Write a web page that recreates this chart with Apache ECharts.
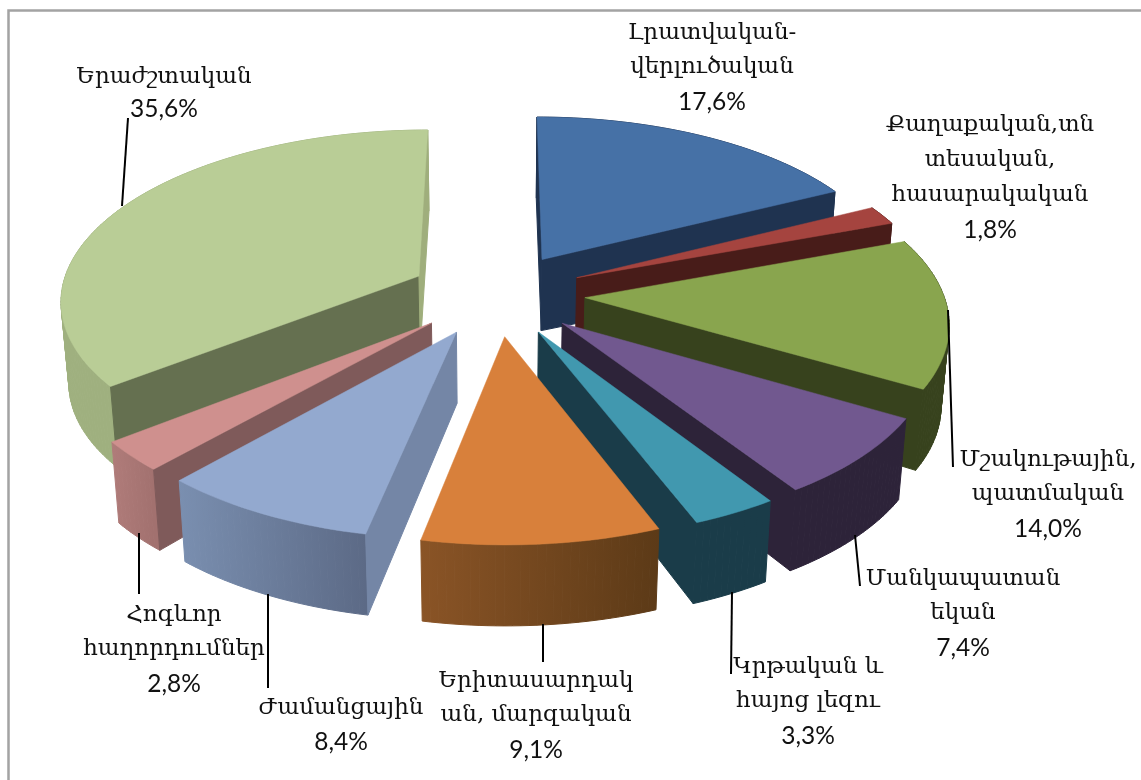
<!DOCTYPE html>
<html>
<head>
<meta charset="utf-8">
<title>Pie</title>
<style>
  html, body { margin: 0; padding: 0; background: #fff; }
  #main { width: 1141px; height: 780px; }
</style>
</head>
<body>
<div id="main"></div>
<script src="https://cdn.jsdelivr.net/npm/echarts@6/dist/echarts.min.js"></script>
<script>
// clockwise from 12 o'clock
var categories = [
  'Լրատվական-\nվերլուծական',
  'Քաղաքական,տն\nտեսական,\nհասարակական',
  'Մշակութային,\nպատմական',
  'Մանկապատան\nեկան',
  'Կրթական և\nհայոց լեզու',
  'Երիտասարդակ\nան, մարզական',
  'Ժամանցային',
  'Հոգևոր\nհաղորդումներ',
  'Երաժշտական'
];
var shares = [17.6, 1.8, 14.0, 7.4, 3.3, 9.1, 8.4, 2.8, 35.6];

// back slices first
var paintOrder = [0, 1, 2, 3, 4, 8, 7, 6, 5];

// top, start edge, end edge, arc wall left, arc wall right
var sliceColors = [
  ['#4671a6', '#1f3350', '#1f3350', '#1f3350', '#1f3350'],
  ['#a5443f', '#481c19', '#481c19', '#481c19', '#481c19'],
  ['#89a54e', '#37421d', '#37421d', '#37421d', '#37421d'],
  ['#71588f', '#2d2339', '#2d2339', '#2d2339', '#2d2339'],
  ['#4198af', '#1a3c49', '#1a3c49', '#1a3c49', '#1a3c49'],
  ['#d8803b', '#8a5426', '#8a5426', '#8a5426', '#5c3a17'],
  ['#93a9cf', '#7486a6', '#7486a6', '#7a8fb0', '#5c6a86'],
  ['#cf908e', '#7f5a5a', '#7f5a5a', '#b07c7a', '#a2716f'],
  ['#b9cd96', '#657050', '#9fae7c', '#9fb07f', '#9fb07f']
];

// label centre x, first line y, and the leader line
var labelLayout = [
  { x: 712, y: 33, gap: 34.5 },
  { x: 990, y: 125, gap: 35 },
  { x: 1048, y: 460, gap: 34.5, line: [948, 310, 953, 467] },
  { x: 963, y: 579, gap: 34.5, line: [855, 535, 860, 586] },
  { x: 808, y: 667, gap: 34.5, line: [732, 592, 731, 674] },
  { x: 536, y: 681, gap: 34.5, line: [543, 624, 543, 662] },
  { x: 341, y: 708, gap: 34.5, line: [268, 594, 268, 688] },
  { x: 174, y: 615, gap: 34.5, line: [139, 533, 139, 594] },
  { x: 164, y: 77, gap: 32, line: [128, 118, 122, 206] }
];

var cx = 497, cy = 294;
var radius = 358.5, explode = 88;
var tilt = 0.472, persp = 0.00036;
var apexDepth = 71, rimDepth = 81, bottomShrink = 0.982;

var total = shares.reduce(function (a, b) { return a + b; }, 0);
var startAngles = [];
shares.reduce(function (sum, v, i) {
  startAngles[i] = sum / total * Math.PI * 2;
  return sum + v;
}, 0);

function project(u, v, drop) {
  var s = 1 / (1 - persp * v);
  var x = u * s;
  var y = tilt * v * s;
  if (drop) {
    return [cx + x * bottomShrink, cy + y + drop];
  }
  return [cx + x, cy + y];
}

function renderSlice(params, api) {
  var i = params.dataIndex;
  var a0 = startAngles[i];
  var a1 = a0 + api.value(0) / total * Math.PI * 2;
  var mid = (a0 + a1) / 2;
  var ou = explode * Math.sin(mid), ov = -explode * Math.cos(mid);
  var colors = sliceColors[i];
  var z = paintOrder.indexOf(i) * 10;

  function rim(a, drop) {
    return project(ou + radius * Math.sin(a), ov - radius * Math.cos(a), drop);
  }

  var topRim = [], lowRim = [];
  var steps = Math.max(2, Math.ceil((a1 - a0) / 0.02));
  for (var k = 0; k <= steps; k++) {
    var a = a0 + (a1 - a0) * k / steps;
    topRim.push(rim(a, 0));
    lowRim.push(rim(a, rimDepth));
  }
  var apex = project(ou, ov, 0);
  var apexLow = project(ou, ov, apexDepth);
  var midPt = rim(mid, 0);

  function poly(points, fill, zz, width) {
    return {
      type: 'polygon',
      shape: { points: points },
      style: { fill: fill, stroke: fill, lineWidth: width },
      z2: z + zz
    };
  }

  // an edge only shows when the top surface does not lie below it
  function faces(edge) {
    var ex = edge[0] - apex[0], ey = edge[1] - apex[1];
    var toMid = ex * (midPt[1] - apex[1]) - ey * (midPt[0] - apex[0]);
    return toMid * ex <= 0;
  }

  var children = [];
  var xs = topRim.map(function (p) { return p[0]; });
  var wallFill = new echarts.graphic.LinearGradient(Math.min.apply(null, xs), 0, Math.max.apply(null, xs), 0, [
    { offset: 0, color: colors[3] },
    { offset: 1, color: colors[4] }
  ], true);
  // the wall goes strip by strip so its outline follows the pie's side
  for (var j = 0; j < steps; j++) {
    children.push(poly([topRim[j], topRim[j + 1], lowRim[j + 1], lowRim[j]], wallFill, 1, 1));
  }
  var first = topRim[0], firstLow = lowRim[0];
  var last = topRim[steps], lastLow = lowRim[steps];
  if (faces(first)) {
    children.push(poly([apex, first, firstLow, apexLow], colors[1], 2, 1));
  }
  if (faces(last)) {
    children.push(poly([apex, last, lastLow, apexLow], colors[2], 2, 1));
  }
  children.push(poly([apex].concat(topRim), colors[0], 3, 0.5));
  return { type: 'group', children: children };
}

function buildLabels() {
  var items = [{
    type: 'polyline',
    shape: { points: [[8.5, 780], [8.5, 10.5], [1141, 10.5]] },
    style: { stroke: '#a3a3a3', lineWidth: 2.5, fill: null },
    z: 20
  }];
  categories.forEach(function (name, i) {
    var lay = labelLayout[i];
    var lines = name.split('\n');
    lines.forEach(function (text, k) {
      items.push({
        type: 'text',
        x: lay.x,
        y: lay.y + k * lay.gap,
        style: {
          text: text,
          font: '23px "DejaVu Serif"',
          fill: '#111',
          align: 'center',
          verticalAlign: 'middle'
        },
        z: 20
      });
    });
    items.push({
      type: 'text',
      x: lay.x,
      y: lay.y + lines.length * lay.gap,
      style: {
        text: shares[i].toFixed(1).replace('.', ',') + '%',
        font: '24.5px Lato',
        fill: '#111',
        align: 'center',
        verticalAlign: 'middle'
      },
      z: 20
    });
    if (lay.line) {
      items.push({
        type: 'line',
        shape: { x1: lay.line[0], y1: lay.line[1], x2: lay.line[2], y2: lay.line[3] },
        style: { stroke: '#000', lineWidth: 2 },
        z: 20
      });
    }
  });
  return items;
}

var myChart = echarts.init(document.getElementById('main'));
myChart.setOption({
  animation: false,
  backgroundColor: '#fff',
  graphic: buildLabels(),
  series: [{
    type: 'custom',
    coordinateSystem: 'none',
    renderItem: renderSlice,
    data: categories.map(function (name, i) {
      return { name: name, value: shares[i] };
    })
  }]
});
</script>
</body>
</html>
